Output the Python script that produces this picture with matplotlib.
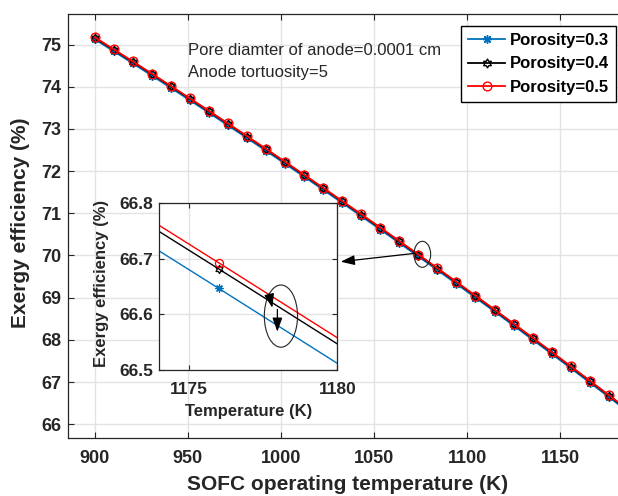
import numpy as np
import matplotlib
matplotlib.use("Agg")
import matplotlib.pyplot as plt
from matplotlib.path import Path
from matplotlib.patches import Ellipse

plt.rcParams['font.family'] = ['Liberation Sans', 'DejaVu Sans']
plt.rcParams['font.weight'] = 'bold'

# ---- data ----
temperature = [900.0, 910.222, 920.444, 930.667, 940.889, 951.111, 961.333, 971.556,
               981.778, 992.0, 1002.222, 1012.444, 1022.667, 1032.889, 1043.111, 1053.333,
               1063.556, 1073.778, 1084.0, 1094.222, 1104.444, 1114.667, 1124.889, 1135.111,
               1145.333, 1155.556, 1165.778, 1176.0, 1186.222]
eff_p04 = [75.160, 74.875, 74.588, 74.298, 74.007, 73.713, 73.417, 73.118,
           72.818, 72.515, 72.210, 71.902, 71.593, 71.281, 70.967, 70.651,
           70.332, 70.012, 69.689, 69.364, 69.036, 68.707, 68.375, 68.041,
           67.705, 67.366, 67.025, 66.682, 66.337]
eff_p05 = [75.171, 74.886, 74.599, 74.309, 74.018, 73.724, 73.428, 73.129,
           72.829, 72.526, 72.221, 71.913, 71.604, 71.292, 70.978, 70.662,
           70.343, 70.023, 69.700, 69.375, 69.047, 68.718, 68.386, 68.052,
           67.716, 67.377, 67.036, 66.693, 66.348]
eff_p03 = [75.125, 74.840, 74.553, 74.263, 73.972, 73.678, 73.382, 73.083,
           72.783, 72.480, 72.175, 71.867, 71.558, 71.246, 70.932, 70.616,
           70.297, 69.977, 69.654, 69.329, 69.001, 68.672, 68.340, 68.006,
           67.670, 67.331, 66.990, 66.647, 66.302]
labels = ['Porosity=0.3', 'Porosity=0.4', 'Porosity=0.5']
main_xticks = [900, 950, 1000, 1050, 1100, 1150]
main_yticks = [66, 67, 68, 69, 70, 71, 72, 73, 74, 75]
inset_xticks = [1175, 1180]
inset_yticks = [66.5, 66.6, 66.7, 66.8]
note_lines = ['Pore diamter of anode=0.0001 cm', 'Anode tortuosity=5']

# ---- styles ----
BLUE = '#0072BD'
RED = '#FF0000'
TXT = '#262626'
GRID = '#e3e3e3'

# hexagram marker (star of David outline)
verts = []
for i in range(6):
    a_out = np.deg2rad(90 + 60 * i)
    a_in = np.deg2rad(120 + 60 * i)
    verts.append((np.cos(a_out), np.sin(a_out)))
    verts.append((np.cos(a_in) / np.sqrt(3), np.sin(a_in) / np.sqrt(3)))
verts.append(verts[0])
codes = [Path.MOVETO] + [Path.LINETO] * (len(verts) - 2) + [Path.CLOSEPOLY]
hexagram = Path(verts, codes)

series = [
    (eff_p03, BLUE, (8, 2, 0), dict(markerfacecolor=BLUE)),
    (eff_p04, 'black', hexagram, dict(markerfacecolor='none')),
    (eff_p05, RED, 'o', dict(markerfacecolor='none')),
]
n_mark = len(temperature) - 1

fig = plt.figure(figsize=(6.18, 4.96), dpi=100)
W, H = 618, 496
ax = fig.add_axes([68 / W, (H - 438.3) / H, (627 - 68) / W, (438.3 - 14) / H])

for (vals, col, mk, kw), lab in zip(series, labels):
    ax.plot(temperature, vals, color=col, lw=1.3, marker=mk, markersize=6.3,
            markeredgewidth=1.0, markevery=list(range(n_mark)), label=lab, **kw)

ax.set_xlim(885.66, 1185.8)
ax.set_ylim(65.668, 75.723)
ax.set_xticks(main_xticks)
ax.set_yticks(main_yticks)
ax.grid(True, color=GRID, lw=1.0)
ax.set_axisbelow(True)
for s in ['left', 'bottom', 'top']:
    ax.spines[s].set_color(TXT)
    ax.spines[s].set_linewidth(0.9)
ax.spines['right'].set_visible(False)
ax.tick_params(axis='both', direction='in', length=4.5, width=0.8, colors=TXT,
               labelsize=13, top=True, right=False)
ax.tick_params(axis='x', pad=8.5)
ax.tick_params(axis='y', pad=5)
ax.set_xlabel('SOFC operating temperature (K)', fontsize=15, fontweight='bold', color=TXT)
ax.set_ylabel('Exergy efficiency (%)', fontsize=15, fontweight='bold', color=TXT)
ax.xaxis.set_label_coords(0.5, -0.087)
ax.yaxis.set_label_coords(-0.068, 0.507)

leg = ax.legend(loc='upper right', bbox_to_anchor=(616 / W, 1 - 25.7 / H),
                bbox_transform=fig.transFigure, borderaxespad=0, fancybox=False,
                framealpha=1, edgecolor='black', handlelength=2.2,
                handletextpad=0.3, labelspacing=0.52, borderpad=0.42,
                prop={'weight': 'bold', 'size': 12})
leg.get_frame().set_linewidth(1.0)
for t in leg.get_texts():
    t.set_color('black')

fig.text(188.3 / W, 1 - 55 / H, note_lines[0], fontsize=12, fontweight='normal',
         color=TXT, va='baseline', ha='left')
fig.text(188.3 / W, 1 - 76.7 / H, note_lines[1], fontsize=12, fontweight='normal',
         color=TXT, va='baseline', ha='left')

# ellipse + arrow in main axes
ax.add_patch(Ellipse((1075.9, 70.028), 8.97, 0.616, fill=False, edgecolor='#222222',
                     lw=0.8, zorder=5))
ax.annotate('', xy=(1032.1, 69.853), xytext=(1072.0, 70.052),
            arrowprops=dict(arrowstyle='-|>,head_length=0.7,head_width=0.25',
                            color='black', lw=0.9, shrinkA=0, shrinkB=0,
                            mutation_scale=12),
            annotation_clip=False, zorder=6)

# ---- inset ----
axi = fig.add_axes([159.3 / W, 1 - 370 / H, 178 / W, 166.7 / H])
for (vals, col, mk, kw), lab in zip(series, labels):
    axi.plot(temperature, vals, color=col, lw=1.0, marker=mk, markersize=5.8,
             markeredgewidth=0.9, markevery=list(range(n_mark)), **kw)
axi.set_xlim(1174, 1180)
axi.set_ylim(66.5, 66.8)
axi.set_xticks(inset_xticks)
axi.set_yticks(inset_yticks)
axi.set_yticklabels([f'{v:.1f}' for v in inset_yticks])
axi.grid(True, color=GRID, lw=1.0)
axi.set_axisbelow(True)
for s in axi.spines.values():
    s.set_color(TXT)
    s.set_linewidth(0.9)
axi.tick_params(axis='both', direction='in', length=3.5, width=0.8, colors=TXT,
                labelsize=12.5, top=True, right=True)
axi.tick_params(axis='x', pad=8.5)
axi.tick_params(axis='y', pad=4.5)
axi.set_xlabel('Temperature (K)', fontsize=12, fontweight='bold', color=TXT)
axi.set_ylabel('Exergy efficiency (%)', fontsize=12, fontweight='bold', color=TXT)
axi.xaxis.set_label_coords(0.5, -0.205)
axi.yaxis.set_label_coords(-0.28, 0.52)

axi.add_patch(Ellipse((1178.1, 66.597), 1.12, 0.112, fill=False, edgecolor='#222222',
                      lw=0.8, zorder=5))
axi.annotate('', xy=(1177.81, 66.612), xytext=(1177.70, 66.637),
             arrowprops=dict(arrowstyle='-|>,head_length=0.7,head_width=0.25',
                             color='black', lw=0.9, shrinkA=0, shrinkB=0,
                             mutation_scale=12), zorder=6)
axi.annotate('', xy=(1177.98, 66.569), xytext=(1177.98, 66.609),
             arrowprops=dict(arrowstyle='-|>,head_length=0.7,head_width=0.25',
                             color='black', lw=0.9, shrinkA=0, shrinkB=0,
                             mutation_scale=12), zorder=6)

fig.savefig('out.png', dpi=100, facecolor='white')
